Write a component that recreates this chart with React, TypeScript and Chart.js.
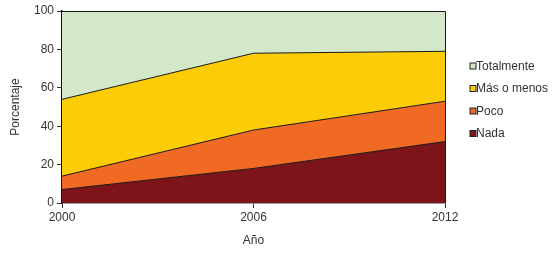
import React, { useEffect, useRef } from 'react';
import { Chart, registerables } from 'chart.js';
Chart.register(...registerables);

const years = ['2000', '2006', '2012'];
const nada = [7, 18, 32];
const poco = [7, 20, 21];
const masOMenos = [40, 40, 26];
const totalmente = [46, 22, 21];
const seriesNames = ['Nada', 'Poco', 'Más o menos', 'Totalmente'];
const seriesValues = [nada, poco, masOMenos, totalmente];
const seriesColors = ['#7D1419', '#F06A24', '#FCCC06', '#D2E8C9'];
const yMin = 0;
const yMax = 100;
const yStep = 20;
const yTitle = 'Porcentaje';
const xTitle = 'Año';

const FONT = "'Liberation Sans', Arial, sans-serif";
const TEXT = '#333333';

const framePlugin = {
  id: 'frame',
  afterDatasetsDraw(chart: any) {
    const { ctx, chartArea } = chart;
    ctx.save();
    ctx.strokeStyle = '#1a1a1a';
    ctx.lineWidth = 1;
    ctx.beginPath();
    ctx.moveTo(chartArea.left, chartArea.top + 0.5);
    ctx.lineTo(chartArea.right + 0.5, chartArea.top + 0.5);
    ctx.lineTo(chartArea.right + 0.5, chartArea.bottom);
    ctx.stroke();
    ctx.restore();
  },
};

const legendPlugin = {
  id: 'customLegend',
  afterDraw(chart: any) {
    const { ctx, chartArea } = chart;
    const ds = chart.data.datasets.slice().reverse();
    const x0 = chartArea.right + 25;
    const y0 = 66;
    const gap = 22.5;
    ctx.save();
    ctx.font = `12px ${FONT}`;
    ctx.textBaseline = 'middle';
    ctx.textAlign = 'left';
    ds.forEach((d: any, i: number) => {
      const y = y0 + i * gap;
      ctx.fillStyle = d.backgroundColor;
      ctx.fillRect(x0, y - 3, 6, 6);
      ctx.strokeStyle = '#222';
      ctx.lineWidth = 1;
      ctx.strokeRect(x0 + 0.5 - 0.5, y - 3.5 + 0.5, 6, 6);
      ctx.fillStyle = TEXT;
      ctx.fillText(d.label, x0 + 6, y + 0.5);
    });
    ctx.restore();
  },
};

export default function App() {
  const ref = useRef<HTMLCanvasElement>(null);
  useEffect(() => {
    if (!ref.current) return;
    const chart = new Chart(ref.current, {
      type: 'line',
      data: {
        labels: years,
        datasets: seriesNames.map((name, i) => ({
          label: name,
          data: seriesValues[i],
          backgroundColor: seriesColors[i],
          borderColor: '#1a1a1a',
          borderWidth: 1,
          pointRadius: 0,
          tension: 0,
          fill: i === 0 ? 'origin' : '-1',
        })),
      },
      options: {
        responsive: false,
        animation: false,
        layout: { padding: { top: 11, right: 109, left: 0, bottom: 0 } },
        plugins: {
          legend: { display: false },
          tooltip: { enabled: false },
        },
        scales: {
          x: {
            offset: false,
            grid: {
              drawOnChartArea: false,
              drawTicks: true,
              tickLength: 5,
              color: '#333',
            },
            border: { color: '#444', width: 1.5 },
            ticks: { color: TEXT, font: { family: FONT, size: 12 }, padding: 2, maxRotation: 0 },
            title: {
              display: true,
              text: xTitle,
              color: TEXT,
              font: { family: FONT, size: 12 },
              padding: { top: 0, bottom: 5 },
            },
            afterFit: (s: any) => { s.height = 50; },
          },
          y: {
            stacked: true,
            min: yMin,
            max: yMax,
            grid: {
              drawOnChartArea: false,
              drawTicks: true,
              tickLength: 5,
              color: '#333',
            },
            border: { color: '#111', width: 1.5 },
            ticks: { stepSize: yStep, color: TEXT, font: { family: FONT, size: 12 }, padding: 3 },
            title: {
              display: true,
              text: yTitle,
              color: TEXT,
              font: { family: FONT, size: 12 },
              padding: { top: 8, bottom: 0 },
            },
            afterFit: (s: any) => { s.width = 62; },
          },
        },
      },
      plugins: [framePlugin, legendPlugin],
    });
    return () => chart.destroy();
  }, []);
  return (
    <div style={{ position: 'absolute', left: 0, top: 0, width: 554, height: 253 }}>
      <canvas ref={ref} width={554} height={253} style={{ display: 'block' }} />
    </div>
  );
}
